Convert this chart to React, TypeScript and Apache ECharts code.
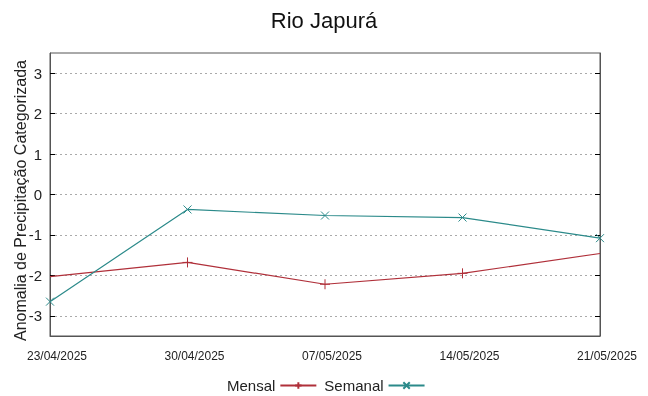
import React, { useEffect, useRef } from "react";
import * as echarts from "echarts";

const categories = ["23/04/2025", "30/04/2025", "07/05/2025", "14/05/2025", "21/05/2025"];
const mensal = [-2.03, -1.68, -2.22, -1.95, -1.46];
const semanal = [-2.65, -0.37, -0.52, -0.57, -1.08];
const yTicks = [-3, -2, -1, 0, 1, 2, 3];

const FONT = "Liberation Sans, Arial, sans-serif";

export default function App() {
  const ref = useRef<HTMLDivElement>(null);
  useEffect(() => {
    if (!ref.current) return;
    const chart = echarts.init(ref.current, undefined, { renderer: "svg" });
    const plusSym = "path://M0,5L10,5M5,0L5,10";
    const xSym = "path://M0,0L10,10M10,0L0,10";
    const mensalData = mensal.map((v, i) => ({
      value: v,
      symbol: i === 0 || i === mensal.length - 1 ? "none" : plusSym,
    }));
    chart.setOption({
      animation: false,
      textStyle: { fontFamily: FONT },
      title: {
        text: "Rio Japurá",
        left: "center",
        top: 4,
        textStyle: { fontFamily: FONT, fontSize: 22, fontWeight: "normal", color: "#111" },
      },
      legend: {
        top: 373,
        left: 222,
        align: "right",
        itemWidth: 36,
        itemHeight: 8,
        itemGap: 7,
        textStyle: { fontFamily: FONT, fontSize: 15, color: "#222" },
        data: ["Mensal", "Semanal"],
      },
      grid: {
        left: 50,
        right: 48,
        top: 53,
        bottom: 60,
        show: true,
        borderColor: "#555",
        borderWidth: 1,
        backgroundColor: "transparent",
        outerBoundsMode: "none",
        containLabel: false,
      },
      xAxis: [
        {
          type: "category",
          data: categories,
          boundaryGap: false,
          axisLine: { show: true, onZero: false, lineStyle: { color: "#555" } },
          axisTick: { show: false },
          axisLabel: {
            fontFamily: FONT,
            fontSize: 12,
            color: "#222",
            margin: 14,
            padding: [0, 0, 0, 14],
            showMinLabel: true,
            showMaxLabel: true,
            interval: 0,
          },
          splitLine: { show: false },
        },
      ],
      yAxis: [
        {
          type: "value",
          min: -3.5,
          max: 3.5,
          interval: 0.5,
          name: "Anomalia de Precipitação Categorizada",
          nameLocation: "middle",
          nameGap: 22,
          nameRotate: 90,
          nameMoveOverlap: false,
          nameTextStyle: { fontFamily: FONT, fontSize: 16, color: "#222", padding: [0, 12, 0, 0] },
          axisLine: { show: true, lineStyle: { color: "#555" } },
          axisTick: {
            show: true,
            inside: true,
            length: 5,
            customValues: yTicks,
            lineStyle: { color: "#000" },
          },
          axisLabel: {
            fontFamily: FONT,
            fontSize: 15,
            color: "#222",
            margin: 8,
            customValues: yTicks,
            formatter: (v: number) => String(v),
          },
          splitLine: {
            show: true,
            lineStyle: { color: "#aaa", type: [2, 3], width: 1 },
          },
        },
        {
          type: "value",
          min: -3.5,
          max: 3.5,
          interval: 0.5,
          position: "right",
          axisLine: { show: true, lineStyle: { color: "#555" } },
          axisTick: {
            show: true,
            inside: true,
            length: 5,
            customValues: yTicks,
            lineStyle: { color: "#000" },
          },
          axisLabel: { show: false },
          splitLine: { show: false },
        },
      ],
      series: [
        {
          name: "Mensal",
          type: "line",
          data: mensalData,
          symbol: plusSym,
          symbolSize: 10,
          showAllSymbol: true,
          color: "#b0303a",
          lineStyle: { color: "#b0303a", width: 1.2 },
          itemStyle: { color: "none", borderColor: "#b0303a", borderWidth: 1 },
        },
        {
          name: "Semanal",
          type: "line",
          data: semanal,
          symbol: xSym,
          symbolSize: 8,
          showAllSymbol: true,
          color: "#2b8a8a",
          lineStyle: { color: "#2b8a8a", width: 1.2 },
          itemStyle: { color: "none", borderColor: "#2b8a8a", borderWidth: 1 },
        },
      ],
    });
    return () => chart.dispose();
  }, []);
  return (
    <div
      ref={ref}
      style={{ position: "fixed", left: 0, top: 0, width: 648, height: 396 }}
    />
  );
}
